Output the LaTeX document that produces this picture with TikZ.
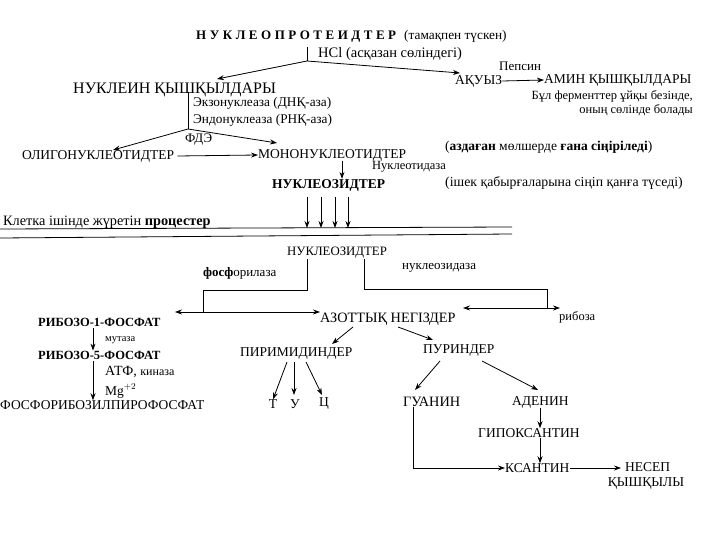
\documentclass[tikz,border=0pt]{standalone}
\usepackage{fontspec}
\setmainfont{Liberation Serif}
\usetikzlibrary{arrows.meta}
\begin{document}
\begin{tikzpicture}[x=1pt,y=-1pt,
  lbl/.style={inner sep=0pt, anchor=west, font=\fontsize{13.5}{15}\selectfont},
  sm/.style={inner sep=0pt, anchor=west, font=\fontsize{13}{15}\selectfont},
  fs/.style={font=\fontsize{#1}{#1}\selectfont},
  arr/.style={-{Stealth[length=7pt,width=5pt]}, line width=0.8pt},
  darr/.style={{Stealth[length=7pt,width=5pt]}-{Stealth[length=7pt,width=5pt]}, line width=0.8pt},
  ln/.style={line width=0.8pt}]
\useasboundingbox (0,0) rectangle (720,540);
\fill[white] (0,0) rectangle (720,540);

% ---------- top part ----------
\node[lbl, font=\fontsize{13}{14}\selectfont\bfseries\addfontfeature{LetterSpace=27}] (np) at (196,37) {НУКЛЕОПРОТЕИДТЕР};
\node[sm, fs=13.3] (tam) at (404,36) {(тамақпен түскен)};
\node[sm, fs=14.5] (hcl) at (318,54) {HCl (асқазан сөліндегі)};
\coordinate (f0) at (307,47);
\coordinate (f1) at (307,61);
\draw[ln] (f0) -- (f1);

\node[lbl, fs=16] (nk) at (73,90) {НУКЛЕИН ҚЫШҚЫЛДАРЫ};
\node[lbl] (aq) at (455,81) {АҚУЫЗ};
\node[sm] (pep) at (499,66) {Пепсин};
\node[lbl] (amin) at (544,80) {АМИН ҚЫШҚЫЛДАРЫ};
\node[sm, fs=12.5, anchor=north east, align=right] (bul) at (693,90) {Бұл ферменттер ұйқы безінде,\\[2pt]оның сөлінде болады};

\draw[arr] (f1) -- (217,79);
\draw[arr] (f1) -- (460,73);
\draw[arr] (aq.east) -- (amin.west);

\coordinate (g0) at (188,92);
\coordinate (g1) at (188,129);
\draw[ln] (g0) -- (g1);
\node[sm, fs=13.3] (ekz) at (193,103) {Экзонуклеаза (ДНҚ-аза)};
\node[sm, fs=13.3] (endo) at (193,120) {Эндонуклеаза (РНҚ-аза)};
\node[sm] (fde) at (185,140) {ФДЭ};

\node[lbl] (olig) at (22,156) {ОЛИГОНУКЛЕОТИДТЕР};
\node[lbl] (mono) at (258,155) {МОНОНУКЛЕОТИДТЕР};
\draw[arr] (g1) -- (113,150);
\draw[arr] (g1) -- (277,143);
\draw[arr] ([xshift=3pt]olig.east) -- (mono.west);

\node[sm, fs=13.5] (azd) at (445,147) {(\textbf{аздаған} мөлшерде \textbf{ғана сіңіріледі})};
\node[sm, fs=12.5] (nukt) at (372,167) {Нуклеотидаза};
\node[lbl, font=\fontsize{13.5}{15}\selectfont\bfseries] (nuz) at (272,185) {НУКЛЕОЗИДТЕР};
\node[sm, fs=13.8] (ishek) at (445,183) {(ішек қабырғаларына сіңіп қанға түседі)};
\draw[arr] (mono.south -| 342,0) -- (nuz.north -| 342,0);

\node[sm, fs=14.3] (kl) at (3,222) {Клетка ішінде жүретін \textbf{процестер}};
\draw[ln] (0,229) -- (512,227);
\draw[ln] (0,238) -- (512,234);
\foreach \xx in {307,321,335,348}
  \draw[arr] (nuz.south -| \xx,0) ++(0,6) -- (\xx,228);

% ---------- bottom part ----------
\node[lbl, fs=12.8] (nuz2) at (287,253) {НУКЛЕОЗИДТЕР};
\node[sm] (fosf) at (203,273) {\textbf{фосф}орилаза};
\node[sm] (nzd) at (402,268) {нуклеозидаза};
\coordinate (h0) at (307,290);
\coordinate (h1) at (203,290);
\coordinate (h2) at (203,312);
\draw[ln] (nuz2.south -| 307,0) -- (h0) -- (h1) -- (h2);
\draw[darr] (175,312) -- (320,312);

\coordinate (k0) at (364,289);
\coordinate (k1) at (547,289);
\coordinate (k2) at (547,308);
\draw[ln] (nuz2.south -| 364,0) -- (k0) -- (k1) -- (k2);
\draw[darr] (463,308) -- (560,308);
\node[sm, fs=12.5] (rib) at (559,317) {рибоза};

\node[lbl, fs=14.3] (azot) at (320,319) {АЗОТТЫҚ НЕГІЗДЕР};
\node[lbl] (pir) at (240,354) {ПИРИМИДИНДЕР};
\node[lbl] (pur) at (423,351) {ПУРИНДЕР};
\draw[arr] (353,327) -- (332,344);
\draw[arr] (398,327) -- (433,340);

\node[lbl, anchor=center] (t) at (273,404) {Т};
\node[lbl, anchor=center] (u) at (295,404) {У};
\node[lbl, anchor=center] (ts) at (324,404) {Ц};
\draw[arr] (287,362) -- (t.north);
\draw[arr] (294,362) -- (294,395);
\draw[arr] (306,362) -- (322,395);

\node[lbl, fs=14.3] (gua) at (403,402) {ГУАНИН};
\node[lbl] (ade) at (512,402) {АДЕНИН};
\node[lbl] (gip) at (478,433) {ГИПОКСАНТИН};
\node[lbl] (ksa) at (505,468) {КСАНТИН};
\node[lbl, anchor=center, align=center] (nes) at (646,476) {\ НЕСЕП\\ҚЫШҚЫЛЫ};
\draw[arr] (440,361) -- (415,390);
\draw[arr] (482,361) -- (538,390);
\draw[arr] (ade.south -| 540,0) -- (gip.north -| 540,0);
\draw[arr] (gip.south -| 540,0) -- (ksa.north -| 540,0);
\draw[arr] (gua.south -| 413,0) -- (413,468) -- (ksa.west);
\draw[arr] (ksa.east) -- (621,468);

\node[lbl, font=\fontsize{12.5}{15}\selectfont\bfseries] (r1) at (38,322) {РИБОЗО-1-ФОСФАТ};
\node[lbl, font=\fontsize{12.5}{15}\selectfont\bfseries] (r5) at (38,355) {РИБОЗО-5-ФОСФАТ};
\node[lbl] (fpp) at (0,405) {ФОСФОРИБОЗИЛПИРОФОСФАТ};
\draw[arr] (r1.south -| 93,0) ++(0,2) -- (r5.north -| 93,0);
\draw[arr] (r5.south -| 93,0) ++(0,2) -- (fpp.north -| 93,0);
\node[sm, fs=10.5] (mut) at (105,340) {мутаза};
\node[sm, fs=14] (atf) at (105,372) {АТФ, {\fontsize{12}{12}\selectfont киназа}};
\node[sm, fs=13.5] (mg) at (105,391) {Mg$^{+2}$};
\end{tikzpicture}
\end{document}
